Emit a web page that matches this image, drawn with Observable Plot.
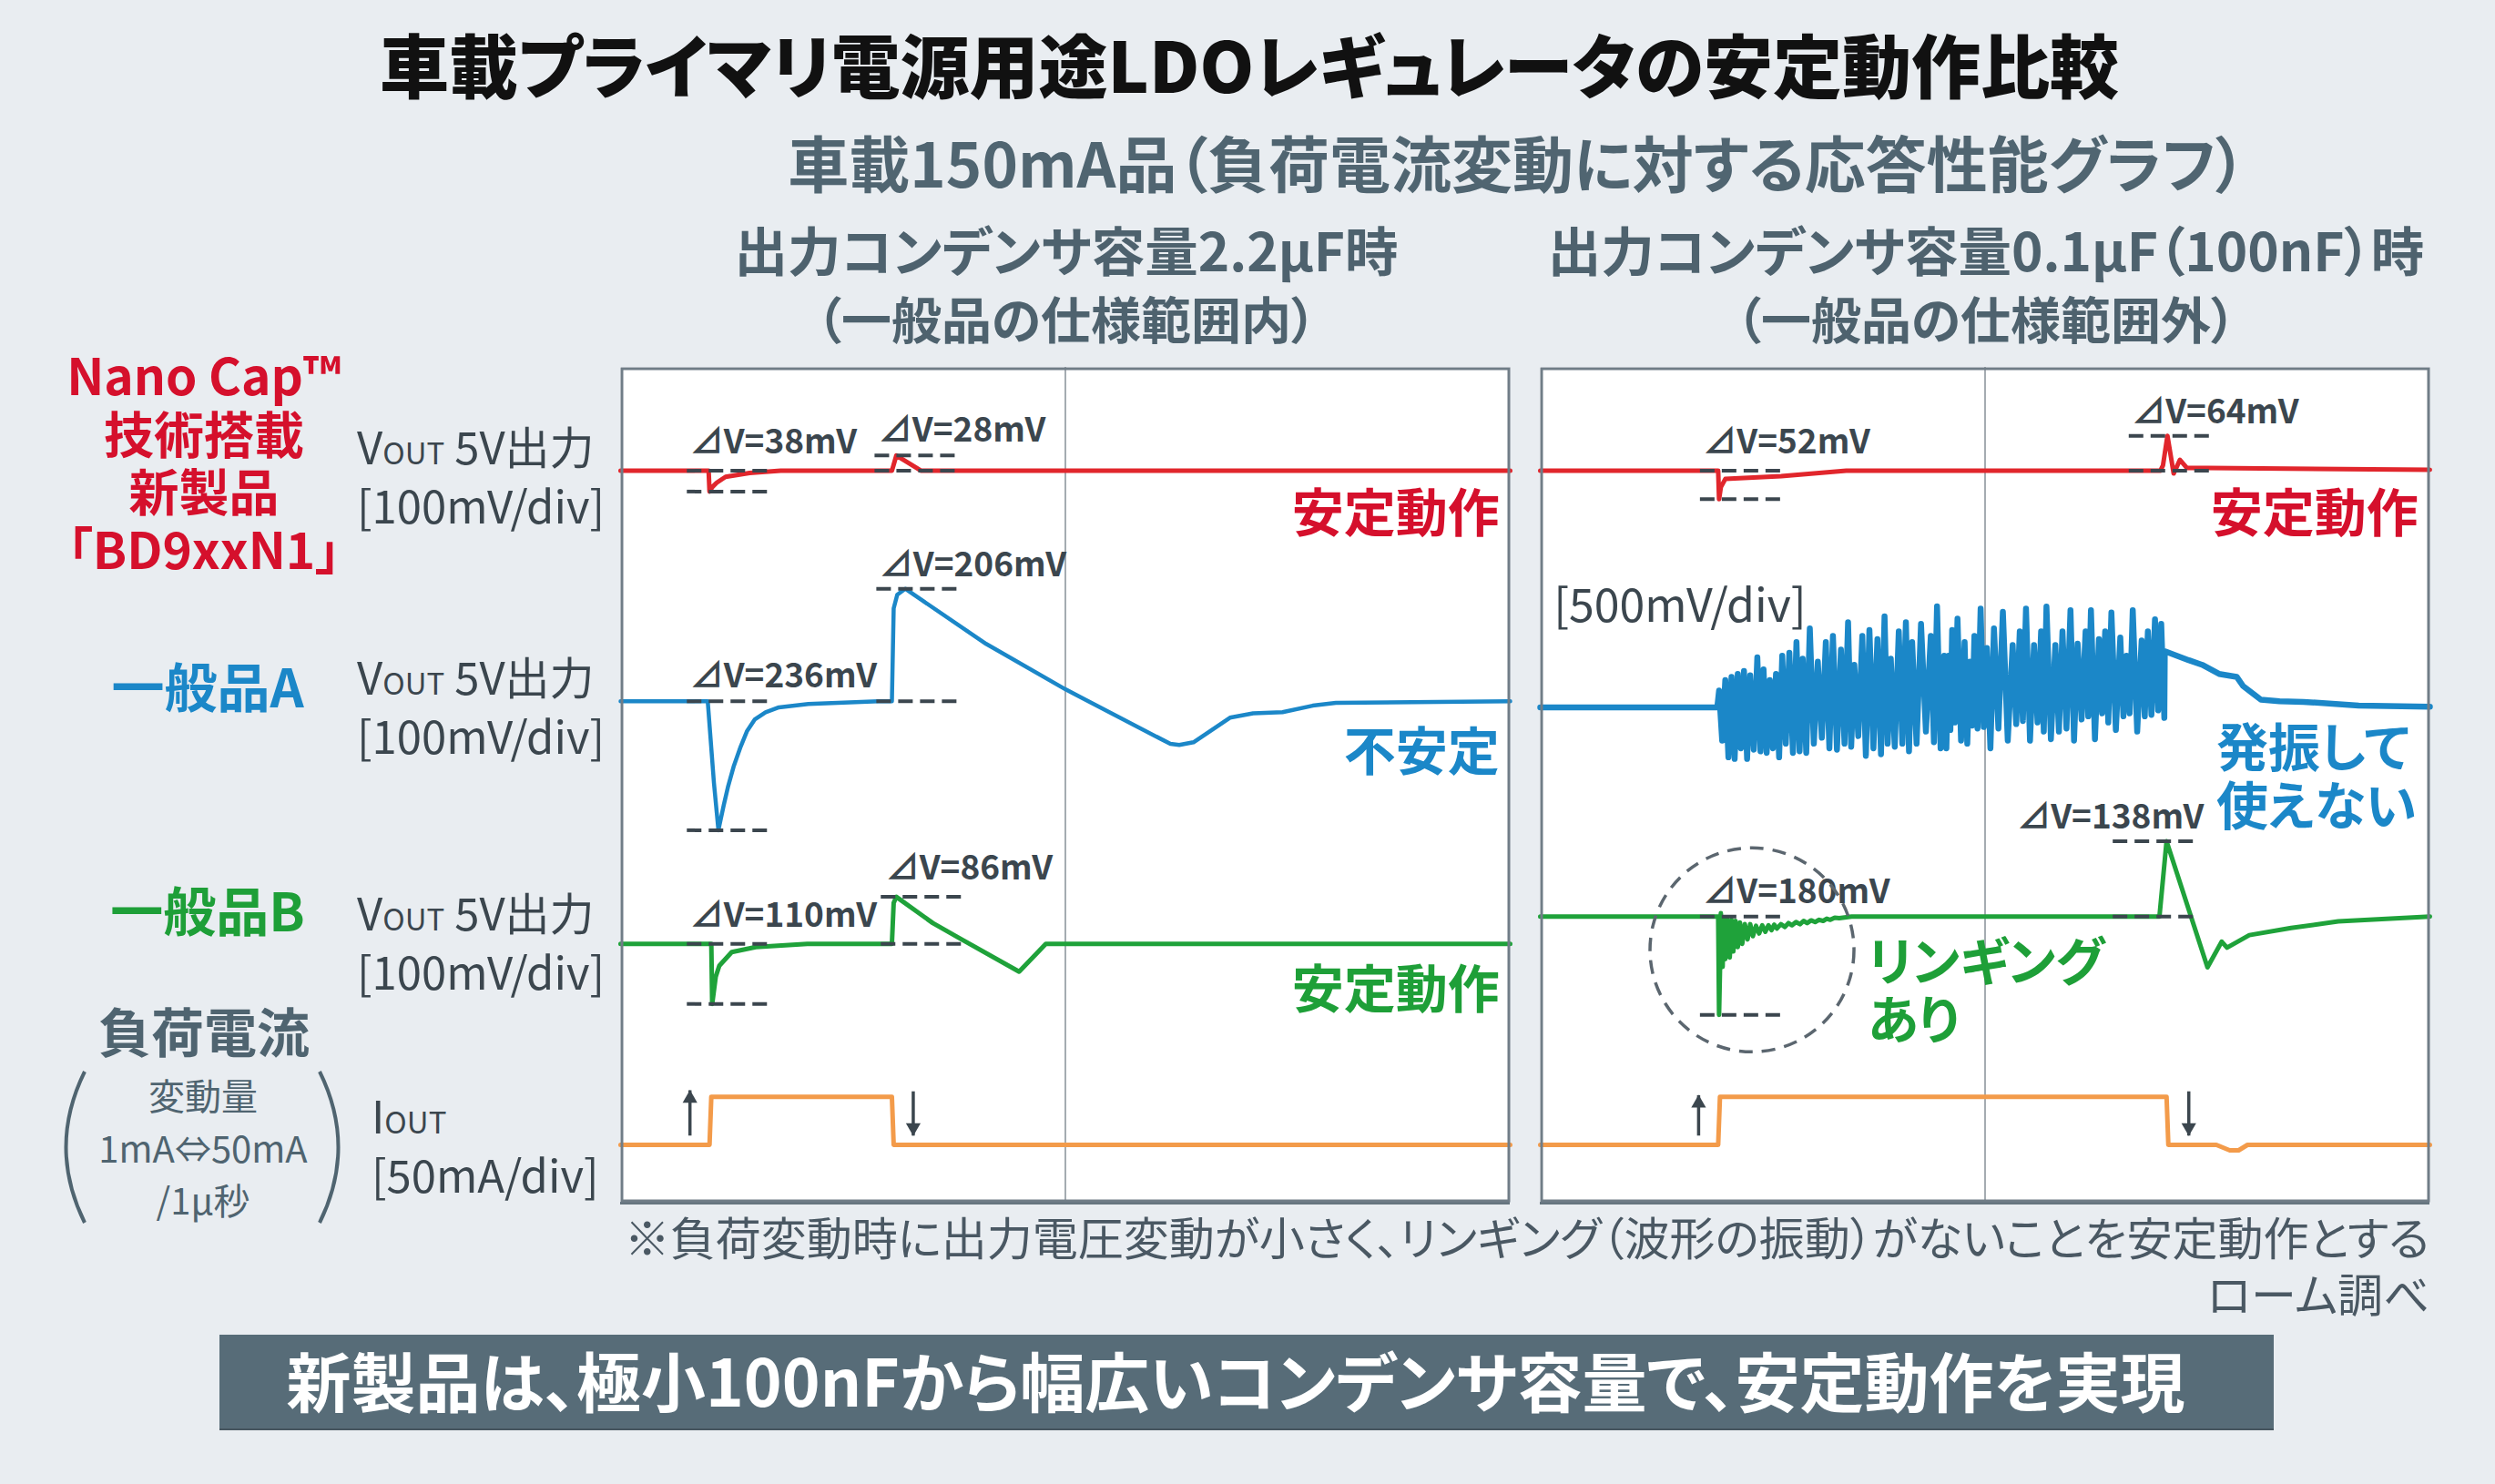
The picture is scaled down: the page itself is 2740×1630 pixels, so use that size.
<!DOCTYPE html>
<html><head><meta charset="utf-8">
<script src="https://cdn.jsdelivr.net/npm/d3@7"></script>
<script src="https://cdn.jsdelivr.net/npm/@observablehq/plot@0.6"></script>
<style>
html,body{margin:0;padding:0;}
body{width:2740px;height:1630px;background:#e9edf1;position:relative;overflow:hidden;font-family:"Noto Sans CJK JP","Noto Sans",sans-serif;font-feature-settings:"palt";}
.t{position:absolute;white-space:nowrap;}
svg text{font-feature-settings:"palt";}
.panel{position:absolute;box-shadow:0 3px 0 #66757f;}
</style></head><body>
<script>
// ---------------- text ----------------
const TITLE = "車載プライマリ電源用途LDOレギュレータの安定動作比較";
const SUBTITLE = "車載150mA品（負荷電流変動に対する応答性能グラフ）";
const HEAD_L = ["出力コンデンサ容量2.2μF時", "（一般品の仕様範囲内）"];
const HEAD_R = ["出力コンデンサ容量0.1μF（100nF）時", "（一般品の仕様範囲外）"];
const ROW_NEW = ["Nano Cap™", "技術搭載", "新製品", "「BD9xxN1」"];
const ROW_A = "一般品A";
const ROW_B = "一般品B";
const ROW_I = ["負荷電流", "変動量", "1mA⇔50mA", "/1μ秒"];
const CH_V = ["5V出力", "[100mV/div]"];
const CH_I = ["[50mA/div]"];
const NOTE = "※負荷変動時に出力電圧変動が小さく、リンギング（波形の振動）がないことを安定動作とする";
const SOURCE = "ローム調べ";
const BANNER = "新製品は、極小100nFから幅広いコンデンサ容量で、安定動作を実現";

// ---------------- data: x in divisions (0-10), value in mV or mA ----------------
// 2.2uF panel
const red22 = [[0,0],[0.99,0],[1.0,-38],[1.03,-30],[1.08,-22],[1.18,-11],[1.45,-4],[1.8,0],[3.05,0],[3.10,28],[3.38,0],[10,0]];
const blue22 = [[0,0],[0.98,0],[1.05,-150],[1.10,-236],[1.16,-190],[1.21,-155],[1.27,-120],[1.35,-83],[1.42,-55],[1.51,-33],[1.63,-20],[1.78,-11],[2.11,-5],[2.9,0],[3.05,0],[3.07,170],[3.11,195],[3.2,206],[4.11,105],[5.0,22],[6.18,-78],[6.28,-80],[6.44,-75],[6.85,-30],[7.11,-22],[7.44,-20],[7.78,-8],[8.04,-3],[10,0]];
const green22 = [[0,0],[1.02,0],[1.03,-110],[1.07,-60],[1.11,-40],[1.25,-15],[1.52,-6],[2.1,0],[3.05,0],[3.07,75],[3.10,86],[3.51,38],[3.78,13],[4.48,-51],[4.78,0],[10,0]];
const iout22 = [[0,1],[1.0,1],[1.02,45],[3.05,45],[3.07,1],[10,1]];
// 0.1uF panel
const red01 = [[0,0],[2.0,0],[2.01,-52],[2.03,-30],[2.08,-15],[2.71,-10],[3.44,0],[6.97,0],[7.0,10],[7.05,64],[7.12,-5],[7.19,20],[7.27,5],[7.5,5],[10,2]];
const blue01Head = [[0,0],[1.99,0]];
// oscillation: [x, peak mV, trough mV] (500mV/div)
const blue01Osc = [[2.01,153,-305],[2.08,250,-458],[2.15,278,-472],[2.22,306,-375],[2.29,333,-472],[2.36,292,-388],[2.44,458,-403],[2.51,347,-417],[2.58,250,-375],[2.65,306,-458],[2.72,472,-333],[2.80,500,-417],[2.88,597,-403],[2.95,445,-417],[3.03,722,-333],[3.12,417,-278],[3.21,597,-375],[3.29,653,-388],[3.38,528,-333],[3.46,778,-361],[3.53,389,-263],[3.62,653,-444],[3.70,708,-375],[3.79,625,-430],[3.87,833,-333],[3.94,445,-361],[4.03,695,-333],[4.11,778,-403],[4.18,597,-333],[4.28,764,-222],[4.39,653,-319],[4.46,925,-375],[4.54,472,-375],[4.59,472,-208],[4.63,708,-139],[4.69,811,-305],[4.77,597,-333],[4.83,417,-167],[4.88,653,-194],[4.95,903,-180],[5.02,542,-375],[5.10,722,-194],[5.20,875,-305],[5.31,570,-153],[5.39,695,-125],[5.46,903,-305],[5.55,570,-139],[5.63,695,-222],[5.69,922,-292],[5.79,570,-222],[5.87,695,-194],[5.96,889,-305],[6.04,583,-111],[6.13,695,-83],[6.19,889,-292],[6.28,625,-55],[6.35,695,-139],[6.42,867,-208],[6.52,639,-83],[6.59,472,-55],[6.66,889,-222],[6.76,611,-83],[6.83,695,-69],[6.91,806,-28],[6.98,764,-97]];
const blue01Tail = [[7.02,514],[7.29,431],[7.44,389],[7.63,306],[7.83,278],[7.90,195],[8.10,70],[8.31,56],[8.58,50],[9.2,15],[10,5]];
const green01 = [[0,0],[2.0,0],[2.01,-180],[2.02,-100],[2.03,6],[2.05,-92],[2.065,-6],[2.08,-78],[2.10,-3],[2.13,-75],[2.15,-6],[2.17,-64],[2.195,-8],[2.22,-56],[2.245,-11],[2.27,-50],[2.30,-14],[2.33,-42],[2.36,-14],[2.39,-36],[2.425,-17],[2.46,-31],[2.495,-16],[2.53,-28],[2.565,-16],[2.60,-25],[2.63,-15],[2.66,-22],[2.705,-14],[2.75,-19],[2.79,-12],[2.83,-16],[2.875,-10],[2.92,-14],[2.96,-8],[3.00,-12],[3.045,-7],[3.09,-10],[3.135,-6],[3.18,-8],[3.22,-4],[3.26,-6],[3.31,-2],[3.36,-3],[3.5,0],[6.96,0],[7.04,138],[7.5,-93],[7.66,-46],[7.72,-57],[7.97,-34],[8.44,-21],[8.97,-9],[10,0]];
const iout01 = [[0,1],[2.0,1],[2.02,45],[7.04,45],[7.06,1],[7.6,1],[7.75,-4],[7.85,-4],[7.95,1],[10,1]];
// delta-V readings (mV)
const dv22 = [-38, 28, -236, 206, -110, 86];
const dv01 = [-52, 64, -180, 138];
const STATUS22 = ["安定動作", "不安定", "安定動作"];
const STATUS01 = ["安定動作", "発振して\n使えない", "リンギング\nあり"];

// ---------------- layout / style ----------------
const COL = {red:"#e1262c", blue:"#1b87c8", green:"#1fa23a", orange:"#f39b4a", ink:"#3b464e"};
const TXT = {red:"#d5102c", blue:"#1b87c8", green:"#1e9f38", slate:"#4f6470"};
const PW = 977, PH = 917, PXDIV = 60, YMAX = PH / PXDIV;
const FONT = '"Noto Sans CJK JP","Noto Sans",sans-serif';

function rows(arr, base, perDiv){ return arr.map(([x,v]) => ({x, y: base + v/perDiv})); }
function expandOsc(tri){
  const out = [];
  tri.forEach(([x,t,b], i) => {
    const nx = i < tri.length-1 ? tri[i+1][0] : x + 0.07;
    out.push([x,t]); out.push([(x+nx)/2, b]);
  });
  return out;
}

function makePanel(cfg){
  const marks = [Plot.ruleX([5], {stroke:"#8e979e", strokeWidth:1.6})];
  cfg.traces.forEach(t => marks.push(Plot.line(rows(t.data, t.base, t.perDiv), {x:"x", y:"y", stroke:t.color, strokeWidth:t.w || 5, strokeLinejoin:"round", strokeLinecap:"round"})));
  const dash = [];
  cfg.ann.forEach(a => { const b = cfg.base[a.ch]; dash.push({x1:a.x1, x2:a.x2, y:b}); dash.push({x1:a.x1, x2:a.x2, y:b + a.v/100}); });
  marks.push(Plot.ruleY(dash, {y:"y", x1:"x1", x2:"x2", stroke:COL.ink, strokeWidth:4, strokeDasharray:"16 8"}));
  marks.push(Plot.text(cfg.ann, {x:"tx", y:"ty", text:d => `⊿V=${Math.abs(d.v)}mV`, textAnchor:"start", lineAnchor:"middle", fontSize:37, fontWeight:700, fill:COL.ink}));
  cfg.status.forEach(s => marks.push(Plot.text([s], {x:"x", y:"y", text:"text", fill:s.color, textAnchor:s.anchor, lineAnchor:"middle", lineHeight:s.lh || 1, fontSize:57, fontWeight:700})));
  // arrows
  marks.push(Plot.link(cfg.arrows, {x1:"x", x2:"x", y1:"y1", y2:"y2", stroke:COL.ink, strokeWidth:3.5}));
  marks.push(Plot.dot(cfg.arrows.filter(a => a.y2 > a.y1), {x:"x", y:"y2", symbol:"triangle", r:6, fill:COL.ink, stroke:"none", dy:9}));
  marks.push(Plot.dot(cfg.arrows.filter(a => a.y2 < a.y1), {x:"x", y:"y2", symbol:"triangle", r:6, fill:COL.ink, stroke:"none", rotate:180, dy:-9}));
  if (cfg.extra) cfg.extra.forEach(m => marks.push(m));
  marks.push(Plot.frame({stroke:"#707d87", strokeWidth:3, inset:1.5}));
  const svg = Plot.plot({
    width:PW, height:PH, margin:0,
    x:{domain:[0,10], axis:null},
    y:{domain:[0,YMAX], axis:null},
    style:{background:"#ffffff", fontFamily:FONT, overflow:"visible"},
    marks
  });
  const wrap = document.createElement("div");
  wrap.className = "panel";
  wrap.style.left = cfg.left + "px"; wrap.style.top = cfg.top + "px";
  wrap.style.width = PW + "px"; wrap.style.height = PH + "px";
  wrap.appendChild(svg);
  document.body.appendChild(wrap);
}

const base22 = {red:13.39, blue:9.17, green:4.73, iout:1.03};
const base01 = {red:13.39, blue:9.06, green:5.23, iout:1.03};

makePanel({
  left:681, top:403, base:base22,
  traces:[
    {data:iout22, base:base22.iout, perDiv:50, color:COL.orange},
    {data:green22, base:base22.green, perDiv:100, color:COL.green},
    {data:blue22, base:base22.blue, perDiv:100, color:COL.blue, w:4.5},
    {data:red22, base:base22.red, perDiv:100, color:COL.red}
  ],
  ann:[
    {ch:"red", v:dv22[0], tx:0.78, ty:13.90, x1:0.75, x2:1.68},
    {ch:"red", v:dv22[1], tx:2.90, ty:14.12, x1:2.86, x2:3.78},
    {ch:"blue", v:dv22[2], tx:0.78, ty:9.63, x1:0.75, x2:1.68},
    {ch:"blue", v:dv22[3], tx:2.91, ty:11.66, x1:2.88, x2:3.81},
    {ch:"green", v:dv22[4], tx:0.78, ty:5.24, x1:0.75, x2:1.68},
    {ch:"green", v:dv22[5], tx:2.98, ty:6.10, x1:2.93, x2:3.86}
  ],
  status:[
    {text:STATUS22[0], color:TXT.red, x:9.88, y:12.58, anchor:"end"},
    {text:STATUS22[1], color:TXT.blue, x:9.88, y:8.22, anchor:"end"},
    {text:STATUS22[2], color:TXT.green, x:9.88, y:3.87, anchor:"end"}
  ],
  arrows:[{x:0.78, y1:1.22, y2:2.05}, {x:3.29, y1:2.03, y2:1.22}]
});

makePanel({
  left:1691, top:403, base:base01,
  traces:[
    {data:iout01, base:base01.iout, perDiv:50, color:COL.orange},
    {data:green01, base:base01.green, perDiv:100, color:COL.green},
    {data:[...blue01Head, ...expandOsc(blue01Osc), ...blue01Tail], base:base01.blue, perDiv:500, color:COL.blue, w:6.5},
    {data:red01, base:base01.red, perDiv:100, color:COL.red}
  ],
  ann:[
    {ch:"red", v:dv01[0], tx:1.83, ty:13.90, x1:1.80, x2:2.72},
    {ch:"red", v:dv01[1], tx:6.65, ty:14.45, x1:6.62, x2:7.54},
    {ch:"green", v:dv01[2], tx:1.83, ty:5.67, x1:1.80, x2:2.72},
    {ch:"green", v:dv01[3], tx:5.36, ty:7.04, x1:6.44, x2:7.37}
  ],
  status:[
    {text:STATUS01[0], color:TXT.red, x:9.87, y:12.58, anchor:"end"},
    {text:STATUS01[1], color:TXT.blue, x:7.60, y:7.785, anchor:"start", lh:1.126},
    {text:STATUS01[2], color:TXT.green, x:3.68, y:3.87, anchor:"start", lh:1.13}
  ],
  arrows:[{x:1.78, y1:1.22, y2:1.96}, {x:7.29, y1:2.03, y2:1.22}],
  extra:[
    Plot.text(["[500mV/div]"], {x:0.15, y:10.90, text:d => d, textAnchor:"start", lineAnchor:"middle", fontSize:50, fontWeight:400, fill:COL.ink}),
    Plot.dot([{x:2.38, y:4.62}], {x:"x", y:"y", r:112, fill:"none", stroke:"#5b666f", strokeWidth:3.5, strokeDasharray:"15 10"})
  ]
});

// ---------------- HTML text ----------------
// o.cy = centre of first line; o.lh = line spacing for multi-line blocks
function place(html, o){
  const d = document.createElement("div");
  d.className = "t"; d.innerHTML = html;
  const s = d.style;
  const lh = o.lh || o.size;
  s.fontSize = o.size + "px"; s.fontWeight = o.weight || 400; s.color = o.color;
  s.lineHeight = lh + "px";
  s.top = (o.cy - lh/2 - o.size*0.056) + "px";
  if (o.align === "center") { s.left = (o.x - 1500) + "px"; s.width = "3000px"; s.textAlign = "center"; }
  else if (o.align === "right") { s.right = (2740 - o.x) + "px"; s.textAlign = "right"; }
  else { s.left = o.x + "px"; }
  document.body.appendChild(d);
  return d;
}
place(TITLE, {x:1372, cy:73, size:76, weight:900, color:"#111111", align:"center"});
place(SUBTITLE, {x:1666, cy:180, size:67, weight:700, color:"#506571", align:"center"});
const hl = (a) => a[0] + '<br><span style="font-size:55px">' + a[1] + '</span>';
place(hl(HEAD_L), {x:1171, cy:276, size:58.5, lh:74, weight:700, color:"#4e626e", align:"center"});
place(hl(HEAD_R), {x:2181, cy:276, size:58.5, lh:74, weight:700, color:"#4e626e", align:"center"});

place(ROW_NEW.join("<br>"), {x:224, cy:414, size:55, lh:63.5, weight:700, color:TXT.red, align:"center"});
place(ROW_A, {x:228, cy:755, size:58, weight:700, color:TXT.blue, align:"center"});
place(ROW_B, {x:228, cy:1001, size:58, weight:700, color:TXT.green, align:"center"});
place(ROW_I[0], {x:224, cy:1134, size:58, weight:700, color:TXT.slate, align:"center"});
place(ROW_I.slice(1).join("<br>"), {x:223, cy:1205, size:40, lh:57.5, weight:400, color:TXT.slate, align:"center"});

const vout = '<span>V</span><span style="font-size:33px">OUT</span> ' + CH_V[0] + '<br>' + CH_V[1];
[491, 744, 1003].forEach(cy => place(vout, {x:392, cy, size:49, lh:57, color:COL.ink}));
place('<span>I</span><span style="font-size:33px">OUT</span><br>' + CH_I[0], {x:408, cy:1226, size:49, lh:57, color:COL.ink});

place(NOTE + "<br>" + SOURCE, {x:2668, cy:1360, size:50, lh:62, color:"#4a5863", align:"right"});

// parentheses around the load-step note
const ns = "http://www.w3.org/2000/svg";
const ps = document.createElementNS(ns, "svg");
ps.setAttribute("width", 2740); ps.setAttribute("height", 1630);
ps.style.position = "absolute"; ps.style.left = "0"; ps.style.top = "0"; ps.style.pointerEvents = "none";
["M93,1177 Q52,1260 93,1343", "M351,1177 Q392,1260 351,1343"].forEach(dp => {
  const p = document.createElementNS(ns, "path");
  p.setAttribute("d", dp); p.setAttribute("fill", "none"); p.setAttribute("stroke", TXT.slate); p.setAttribute("stroke-width", "4");
  ps.appendChild(p);
});
document.body.appendChild(ps);

// banner
const ban = document.createElement("div");
ban.style.cssText = "position:absolute;left:241px;top:1466px;width:2256px;height:103px;background:#576c78;box-shadow:0 2px 0 #46555f;";
document.body.appendChild(ban);
place(BANNER, {x:1357, cy:1518, size:71, weight:700, color:"#ffffff", align:"center"});
</script>
</body></html>
